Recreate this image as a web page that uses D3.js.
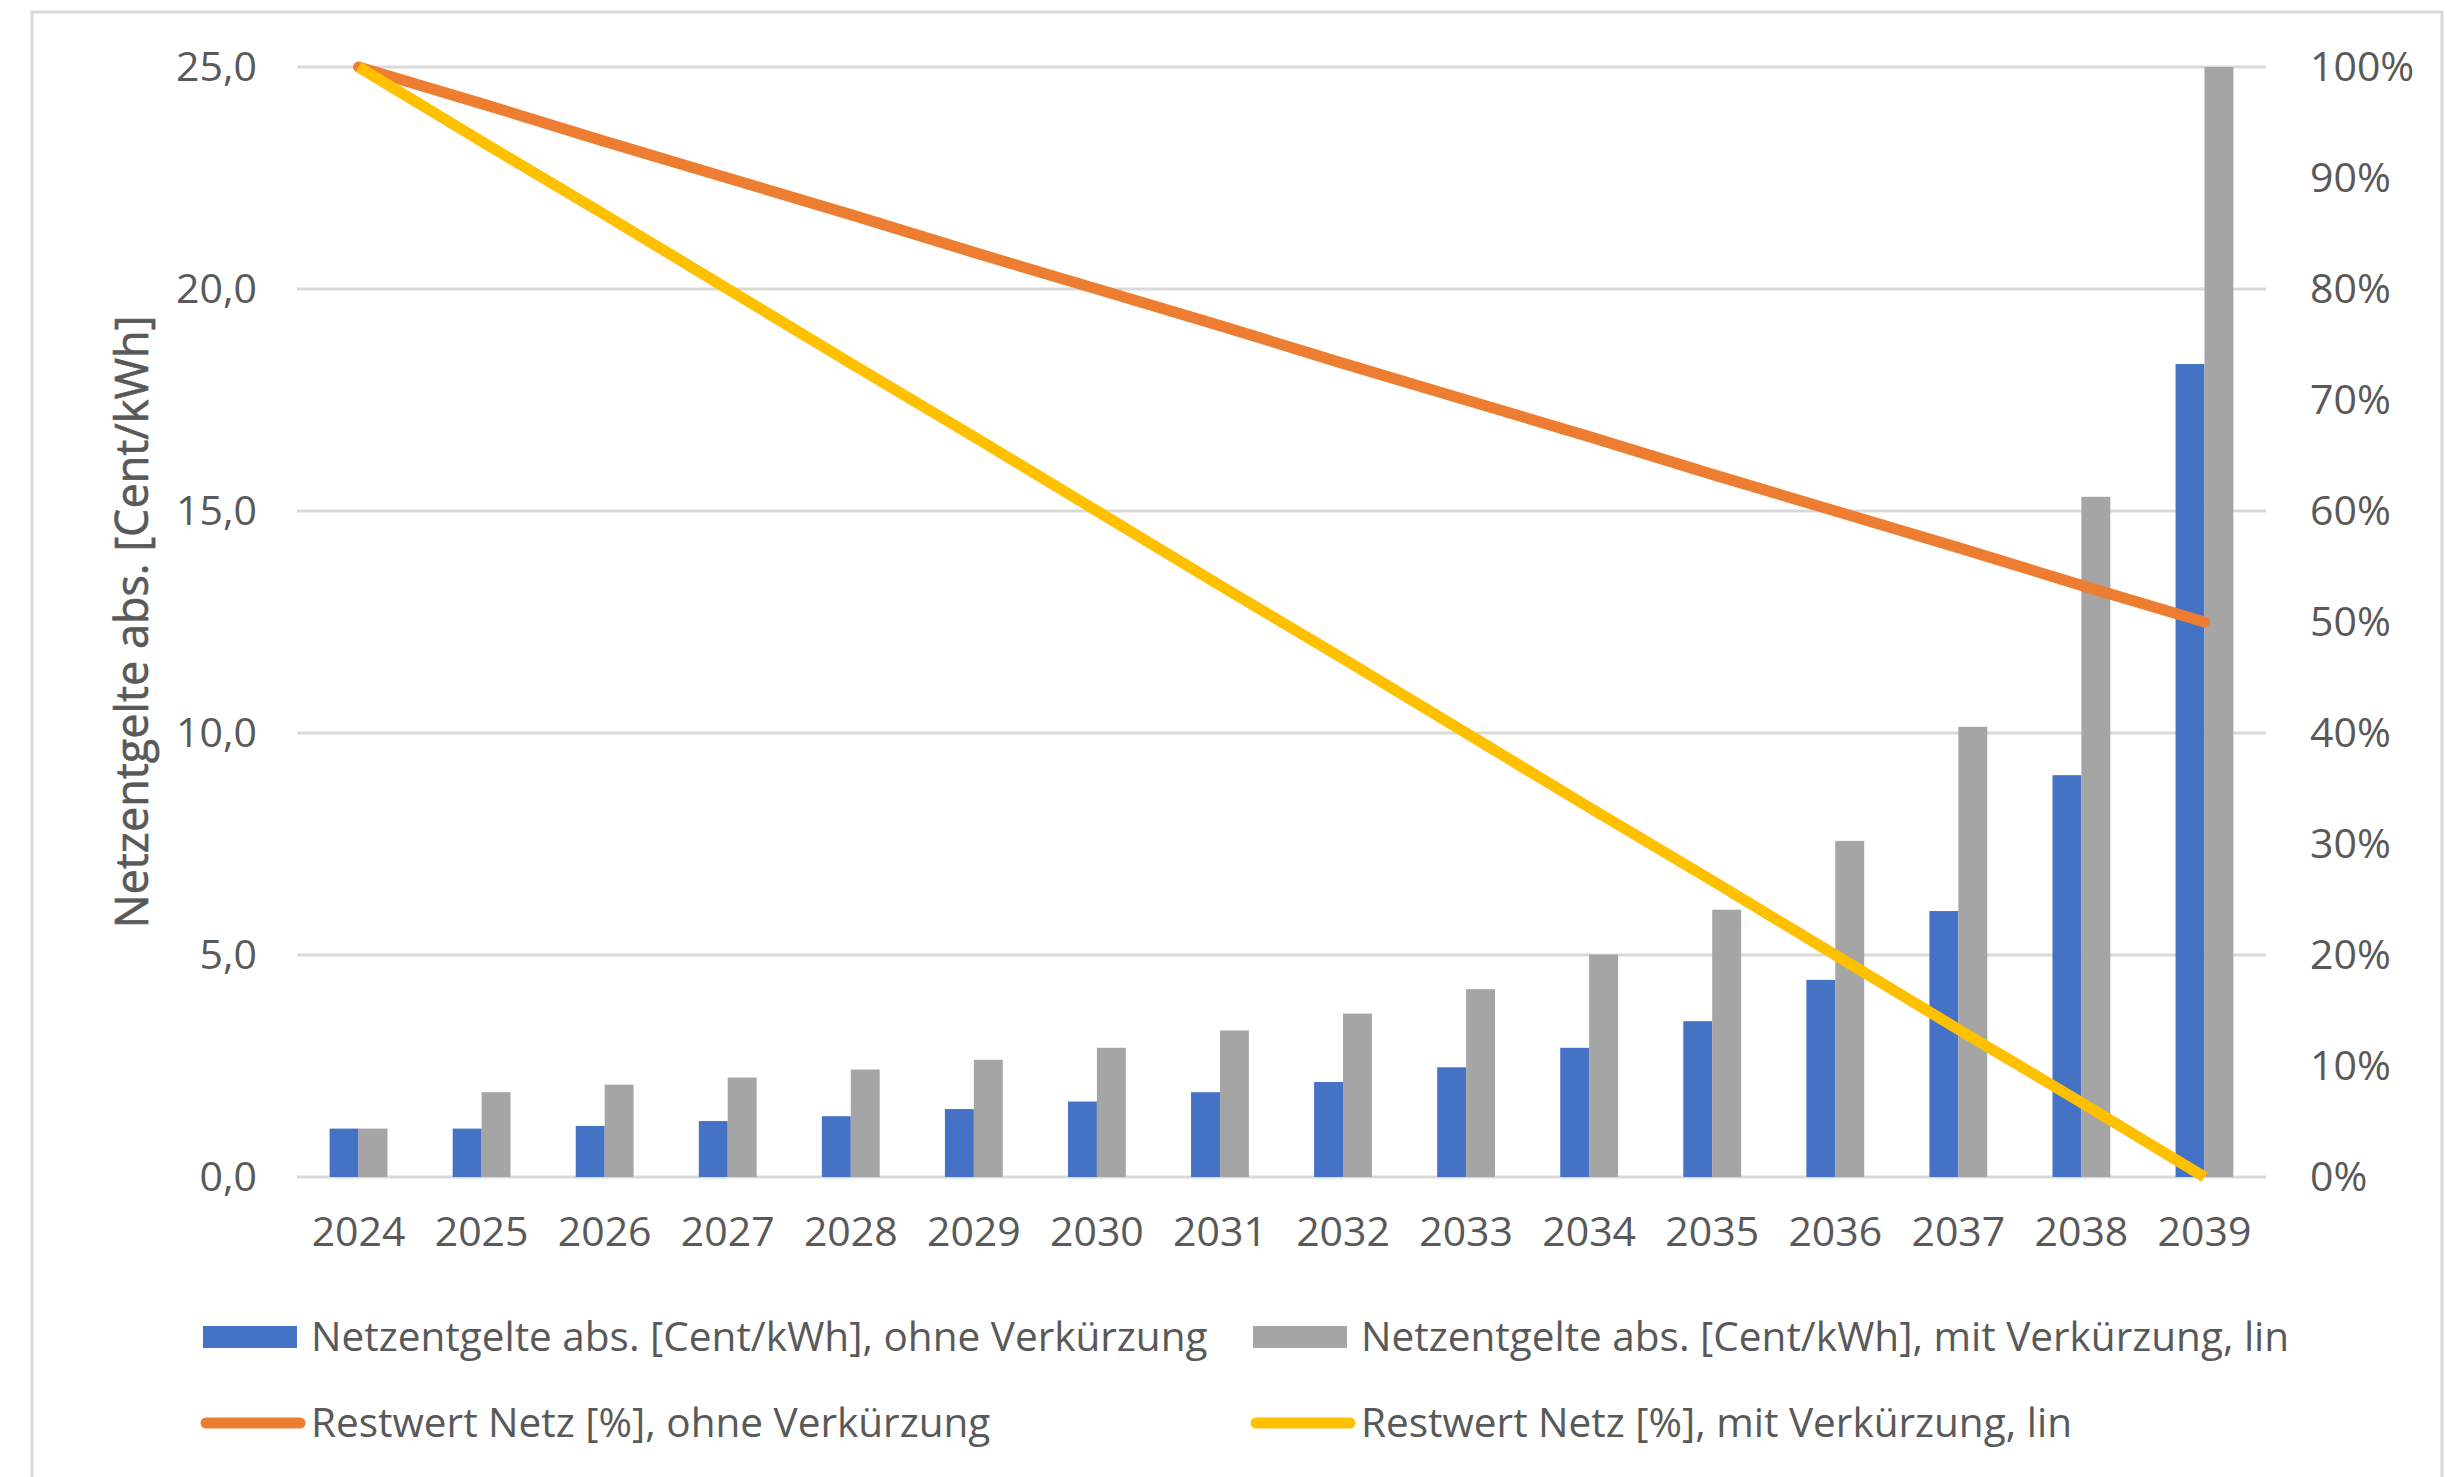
<!DOCTYPE html>
<html>
<head>
<meta charset="utf-8">
<script src="https://cdn.jsdelivr.net/npm/d3@7"></script>
<style>
  html, body { margin: 0; padding: 0; background: #ffffff; }
  svg { display: block; }
  text { font-family: "Open Sans", "Noto Sans", sans-serif; fill: #595959; }
</style>
</head>
<body>
<svg id="chart" width="2447" height="1477"></svg>
<script>
// Years on the category axis
const years = ["2024","2025","2026","2027","2028","2029","2030","2031","2032","2033","2034","2035","2036","2037","2038","2039"];

// Network charges in Cent/kWh (left axis)
const chargesWithout = [1.09, 1.09, 1.15, 1.26, 1.37, 1.53, 1.70, 1.91, 2.14, 2.47, 2.91, 3.51, 4.44, 5.99, 9.05, 18.31];
const chargesWith    = [1.09, 1.91, 2.08, 2.24, 2.42, 2.64, 2.91, 3.30, 3.68, 4.23, 5.01, 6.02, 7.57, 10.14, 15.32, 25.0];

// Residual network value in % (right axis)
const residualWithout = [100, 96.7, 93.3, 90, 86.7, 83.3, 80, 76.7, 73.3, 70, 66.7, 63.3, 60, 56.7, 53.3, 50];
const residualWith    = [100, 93.3, 86.7, 80, 73.3, 66.7, 60, 53.3, 46.7, 40, 33.3, 26.7, 20, 13.3, 6.7, 0];

// Axis ticks
const leftTicks  = [0, 5, 10, 15, 20, 25];
const rightTicks = [0, 10, 20, 30, 40, 50, 60, 70, 80, 90, 100];

// Series names shown in the legend
const seriesNames = [
  "Netzentgelte abs. [Cent/kWh], ohne Verkürzung",
  "Netzentgelte abs. [Cent/kWh], mit Verkürzung, lin",
  "Restwert Netz [%], ohne Verkürzung",
  "Restwert Netz [%], mit Verkürzung, lin"
];
const yAxisTitle = "Netzentgelte abs. [Cent/kWh]";

const colors = { blue: "#4472C4", gray: "#A5A5A5", orange: "#ED7D31", yellow: "#FFC000" };

const svg = d3.select("#chart");
const FS = 41;
const LEGEND_FS = 40.5;
const plot = { left: 297, right: 2266, top: 67, bottom: 1177 };

// Outer chart frame
svg.append("rect")
  .attr("x", 32).attr("y", 12)
  .attr("width", 2410).attr("height", 1520)
  .attr("fill", "#ffffff")
  .attr("stroke", "#d9d9d9").attr("stroke-width", 3);

const x = d3.scaleBand().domain(years).range([plot.left, plot.right]).paddingInner(0.53).paddingOuter(0.265);
const xCenter = d3.scaleBand().domain(years).range([plot.left, plot.right]);
const sub = d3.scaleBand().domain(["without", "with"]).range([0, x.bandwidth()]);
const yLeft = d3.scaleLinear().domain([0, 25]).range([plot.bottom, plot.top]);
const yRight = d3.scaleLinear().domain([0, 100]).range([plot.bottom, plot.top]);

// Horizontal gridlines
svg.append("g")
  .selectAll("line")
  .data(leftTicks)
  .join("line")
  .attr("x1", plot.left).attr("x2", plot.right)
  .attr("y1", d => yLeft(d)).attr("y2", d => yLeft(d))
  .attr("stroke", "#d9d9d9").attr("stroke-width", 3);

// Left axis
const axL = svg.append("g")
  .attr("transform", `translate(${plot.left},0)`)
  .call(d3.axisLeft(yLeft).tickValues(leftTicks).tickSize(0).tickPadding(40)
    .tickFormat(d => d3.format(".1f")(d).replace(".", ",")));
axL.select(".domain").remove();
axL.selectAll("text").attr("font-size", FS).attr("fill", "#595959").attr("font-family", null);

// Right axis
const axR = svg.append("g")
  .attr("transform", `translate(${plot.right},0)`)
  .call(d3.axisRight(yRight).tickValues(rightTicks).tickSize(0).tickPadding(44)
    .tickFormat(d => d + "%"));
axR.select(".domain").remove();
axR.selectAll("text").attr("font-size", FS).attr("fill", "#595959").attr("font-family", null);

// Category axis
const axB = svg.append("g")
  .attr("transform", `translate(0,${plot.bottom})`)
  .call(d3.axisBottom(xCenter).tickSize(0).tickPadding(40));
axB.select(".domain").remove();
axB.selectAll("text").attr("font-size", FS).attr("fill", "#595959").attr("font-family", null);

// Y axis title
svg.append("text")
  .attr("transform", `translate(148,${(plot.top + plot.bottom) / 2}) rotate(-90)`)
  .attr("text-anchor", "middle")
  .attr("font-size", 45)
  .attr("stroke", "#595959").attr("stroke-width", 0.6)
  .text(yAxisTitle);

// Bars
const barGroups = svg.append("g")
  .selectAll("g")
  .data(years.map((y, i) => ({ year: y, without: chargesWithout[i], with: chargesWith[i] })))
  .join("g")
  .attr("transform", d => `translate(${x(d.year)},0)`);

barGroups.append("rect")
  .attr("x", sub("without")).attr("width", sub.bandwidth())
  .attr("y", d => yLeft(d.without)).attr("height", d => yLeft(0) - yLeft(d.without))
  .attr("fill", colors.blue);
barGroups.append("rect")
  .attr("x", sub("with")).attr("width", sub.bandwidth())
  .attr("y", d => yLeft(d.with)).attr("height", d => yLeft(0) - yLeft(d.with))
  .attr("fill", colors.gray);

// Residual value lines
const line = d3.line()
  .x((d, i) => xCenter(years[i]) + xCenter.bandwidth() / 2)
  .y(d => yRight(d));

svg.append("path").datum(residualWithout)
  .attr("d", line).attr("fill", "none")
  .attr("stroke", colors.orange).attr("stroke-width", 11)
  .attr("stroke-linecap", "round").attr("stroke-linejoin", "round");
svg.append("path").datum(residualWith)
  .attr("d", line).attr("fill", "none")
  .attr("stroke", colors.yellow).attr("stroke-width", 11)
  .attr("stroke-linejoin", "round");

// Legend
const legendItems = [
  { name: seriesNames[0], type: "rect", color: colors.blue,   x: 203,  y: 1337 },
  { name: seriesNames[1], type: "rect", color: colors.gray,   x: 1253, y: 1337 },
  { name: seriesNames[2], type: "line", color: colors.orange, x: 203,  y: 1423 },
  { name: seriesNames[3], type: "line", color: colors.yellow, x: 1253, y: 1423 }
];
const lg = svg.append("g").selectAll("g").data(legendItems).join("g")
  .attr("transform", d => `translate(${d.x},${d.y})`);
lg.filter(d => d.type === "rect").append("rect")
  .attr("x", 0).attr("y", -11).attr("width", 94).attr("height", 22)
  .attr("fill", d => d.color);
lg.filter(d => d.type === "line").append("line")
  .attr("x1", 3).attr("x2", 97).attr("y1", 0).attr("y2", 0)
  .attr("stroke", d => d.color).attr("stroke-width", 11).attr("stroke-linecap", "round");
lg.append("text")
  .attr("x", 108).attr("y", 0).attr("dy", "0.35em")
  .attr("font-size", LEGEND_FS)
  .text(d => d.name);
</script>
</body>
</html>
